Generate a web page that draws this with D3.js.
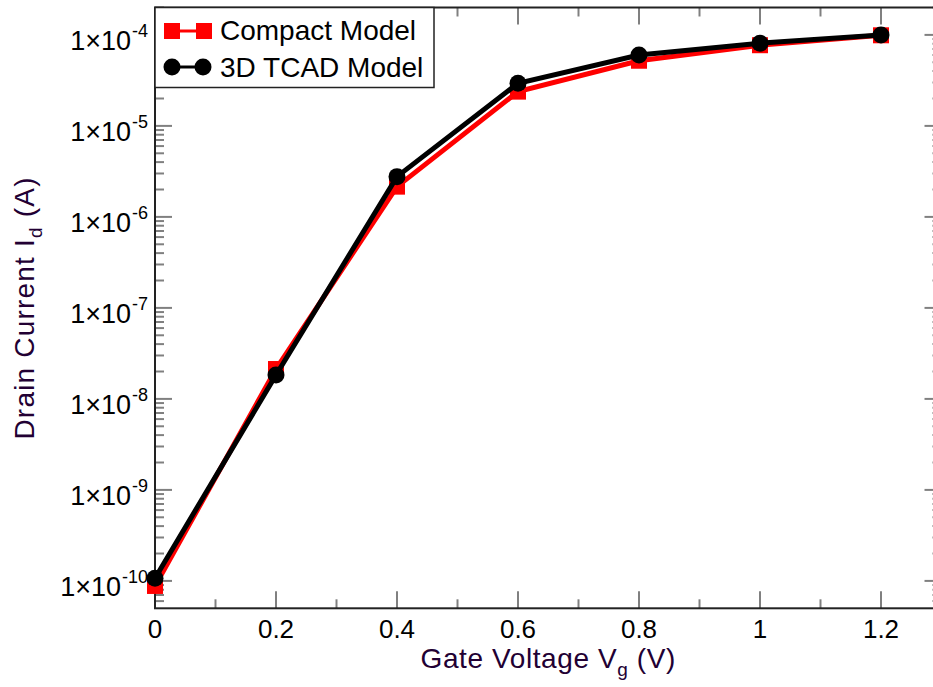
<!DOCTYPE html>
<html>
<head>
<meta charset="utf-8">
<script src="https://cdn.jsdelivr.net/npm/d3@7/dist/d3.min.js"></script>
<style>
  html, body { margin: 0; padding: 0; background: #fff; }
  svg { display: block; font-family: "Liberation Sans", Arial, Helvetica, sans-serif; }
</style>
</head>
<body>
<svg id="chart" width="933" height="687"></svg>
<script>
// ---- data ----
const gateVoltage = [0, 0.2, 0.4, 0.6, 0.8, 1.0, 1.2];
const compactModel = [8.8e-11, 2.13e-8, 2.15e-6, 2.38e-5, 5.2e-5, 7.7e-5, 9.9e-5];
const tcadModel = [1.07e-10, 1.83e-8, 2.77e-6, 2.94e-5, 6.0e-5, 8.1e-5, 1.0e-4];
const xTickValues = [0, 0.2, 0.4, 0.6, 0.8, 1, 1.2];
const xTickLabels = ["0", "0.2", "0.4", "0.6", "0.8", "1", "1.2"];
const yTickExponents = [-10, -9, -8, -7, -6, -5, -4];
const seriesNames = ["Compact Model", "3D TCAD Model"];

// ---- layout ----
const pLeft = 155, pRight = 941.5, pTop = 7.5, pBottom = 608.3;
const svg = d3.select("#chart");

const x = d3.scaleLinear().domain([0, 1.3]).range([pLeft, pRight]);
const y = d3.scaleLog().domain([5e-11, 2e-4]).range([pBottom, pTop]);

const axisColor = "#222", tickColor = "#808080";
const majorLen = 17, minorLen = 9;

// minor ticks
const xMinor = [0.1, 0.3, 0.5, 0.7, 0.9, 1.1];
const yMinor = [];
for (let e = -11; e <= -4; e++) for (let m = 2; m <= 9; m++) {
  const v = m * Math.pow(10, e);
  if (v >= 5e-11 && v <= 2e-4) yMinor.push(v);
}
const yMajor = yTickExponents.map(e => Math.pow(10, e));

const g = svg.append("g");
function drawTicks(vals, len, isX) {
  vals.forEach(v => {
    if (isX) {
      const px = x(v);
      g.append("line").attr("x1", px).attr("x2", px).attr("y1", pBottom).attr("y2", pBottom - len)
        .attr("stroke", tickColor).attr("stroke-width", 2);
      g.append("line").attr("x1", px).attr("x2", px).attr("y1", pTop).attr("y2", pTop + len)
        .attr("stroke", tickColor).attr("stroke-width", 2);
    } else {
      const py = y(v);
      g.append("line").attr("x1", pLeft).attr("x2", pLeft + len).attr("y1", py).attr("y2", py)
        .attr("stroke", tickColor).attr("stroke-width", 2);
      g.append("line").attr("x1", pRight).attr("x2", pRight - len).attr("y1", py).attr("y2", py)
        .attr("stroke", tickColor).attr("stroke-width", 2);
    }
  });
}
drawTicks(xTickValues, majorLen, true);
drawTicks(xMinor, minorLen, true);
drawTicks(yMajor, majorLen, false);
drawTicks(yMinor, minorLen, false);

// frame
g.append("rect").attr("x", pLeft).attr("y", pTop).attr("width", pRight - pLeft).attr("height", pBottom - pTop)
  .attr("fill", "none").attr("stroke", axisColor).attr("stroke-width", 2);

// x tick labels
xTickValues.forEach((v, i) => {
  svg.append("text").attr("x", x(v)).attr("y", 638).attr("text-anchor", "middle")
    .attr("font-size", 26).attr("fill", "#000").text(xTickLabels[i]);
});

// y tick labels 1×10^e
yTickExponents.forEach(e => {
  const py = y(Math.pow(10, e));
  const t = svg.append("text").attr("x", 148).attr("y", py + 15).attr("text-anchor", "end")
    .attr("font-size", 27).attr("fill", "#000");
  t.append("tspan").text("1\u00d710");
  t.append("tspan").attr("font-size", 18).attr("dx", 1).attr("dy", -13).text(String(e));
});

// axis titles
const titleColor = "#220033";
const xt = svg.append("text").attr("x", (pLeft + pRight) / 2).attr("y", 668).attr("text-anchor", "middle")
  .attr("font-size", 28).attr("letter-spacing", 0.6).attr("fill", titleColor);
xt.append("tspan").text("Gate Voltage V");
xt.append("tspan").attr("font-size", 19).attr("dy", 8).text("g");
xt.append("tspan").attr("dy", -8).text(" (V)");

const yt = svg.append("text").attr("transform", `translate(34,${(pTop + pBottom) / 2}) rotate(-90)`)
  .attr("text-anchor", "middle").attr("font-size", 28).attr("letter-spacing", 1.2).attr("fill", titleColor);
yt.append("tspan").text("Drain Current I");
yt.append("tspan").attr("font-size", 19).attr("dy", 8).text("d");
yt.append("tspan").attr("dy", -8).text(" (A)");

// series
const line = d3.line().x(d => x(d[0])).y(d => y(d[1]));
const compactPts = gateVoltage.map((v, i) => [v, compactModel[i]]);
const tcadPts = gateVoltage.map((v, i) => [v, tcadModel[i]]);

svg.append("path").datum(compactPts).attr("d", line).attr("fill", "none")
  .attr("stroke", "#ff0000").attr("stroke-width", 5);
svg.selectAll(".sq").data(compactPts).enter().append("rect")
  .attr("x", d => x(d[0]) - 8).attr("y", d => y(d[1]) - 8).attr("width", 16).attr("height", 16)
  .attr("fill", "#ff0000");

svg.append("path").datum(tcadPts).attr("d", line).attr("fill", "none")
  .attr("stroke", "#000").attr("stroke-width", 5);
svg.selectAll(".ci").data(tcadPts).enter().append("circle")
  .attr("cx", d => x(d[0])).attr("cy", d => y(d[1])).attr("r", 8.5).attr("fill", "#000");

// legend
const lg = svg.append("g");
lg.append("rect").attr("x", pLeft).attr("y", pTop).attr("width", 279).attr("height", 80)
  .attr("fill", "#fff").attr("stroke", "#222").attr("stroke-width", 1.5);
lg.append("line").attr("x1", 172).attr("x2", 204).attr("y1", 31).attr("y2", 31)
  .attr("stroke", "#ff0000").attr("stroke-width", 3);
[172, 204].forEach(cx => lg.append("rect").attr("x", cx - 8).attr("y", 23).attr("width", 16).attr("height", 16).attr("fill", "#ff0000"));
lg.append("text").attr("x", 220).attr("y", 40).attr("font-size", 28).attr("fill", "#000").text(seriesNames[0]);
lg.append("line").attr("x1", 172).attr("x2", 203).attr("y1", 67).attr("y2", 67)
  .attr("stroke", "#000").attr("stroke-width", 3);
[172, 203].forEach(cx => lg.append("circle").attr("cx", cx).attr("cy", 67).attr("r", 8.5).attr("fill", "#000"));
lg.append("text").attr("x", 220).attr("y", 77).attr("font-size", 28).attr("fill", "#000").text(seriesNames[1]);
</script>
</body>
</html>
